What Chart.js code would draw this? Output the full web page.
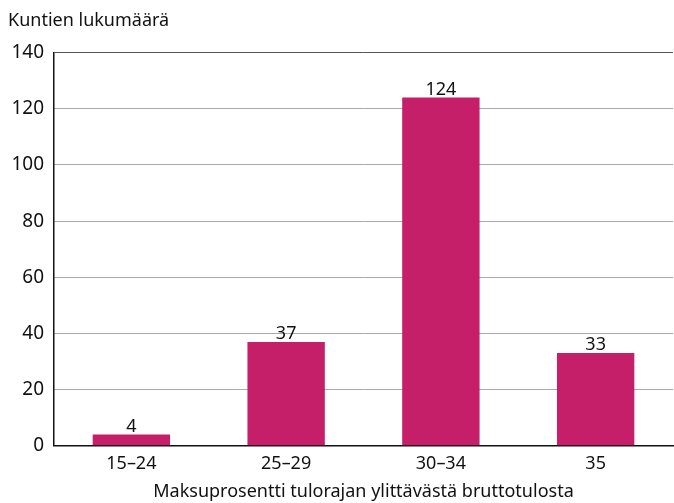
<!DOCTYPE html>
<html><head><meta charset="utf-8">
<script src="https://cdn.jsdelivr.net/npm/chart.js@4/dist/chart.umd.min.js"></script>
<style>html,body{margin:0;padding:0;background:#fff}#wrap{width:674px;height:503px}</style>
</head><body><div id="wrap"><canvas id="c" width="674" height="503"></canvas></div>
<script>
const categories = ["15–24", "25–29", "30–34", "35"];
const counts = [4, 37, 124, 33];
const yTicks = [0, 20, 40, 60, 80, 100, 120, 140];
const yTitle = "Kuntien lukumäärä";
const xTitle = "Maksuprosentti tulorajan ylittävästä bruttotulosta";

const FONT = "'Noto Sans', sans-serif";
const barColor = "#C51F69";

const labelPlugin = {
  id: 'valueLabels',
  afterDatasetsDraw(chart) {
    const ctx = chart.ctx;
    const meta = chart.getDatasetMeta(0);
    ctx.save();
    ctx.font = "18px " + FONT;
    ctx.fillStyle = "#111";
    ctx.textAlign = "center";
    ctx.textBaseline = "bottom";
    meta.data.forEach((bar, i) => {
      ctx.fillText(String(counts[i]), bar.x, bar.y + 1);
    });
    ctx.restore();
  }
};

new Chart(document.getElementById('c'), {
  type: 'bar',
  data: {
    labels: categories,
    datasets: [{ data: counts, backgroundColor: barColor, barPercentage: 0.5, categoryPercentage: 1.0 }]
  },
  options: {
    responsive: false,
    animation: false,
    devicePixelRatio: 1,
    layout: { padding: { left: 8, right: 1, top: 0, bottom: 0 } },
    plugins: {
      legend: { display: false },
      tooltip: { enabled: false },
      title: {
        display: true, text: yTitle, align: 'start',
        color: '#111', font: { family: FONT, size: 18, weight: 'normal' },
        padding: { top: 10, bottom: 21 }
      }
    },
    scales: {
      x: {
        grid: { display: false, drawTicks: false },
        border: { display: true, color: '#111', width: 1.5 },
        ticks: { color: '#111', font: { family: FONT, size: 18 }, padding: 7 },
        title: { display: true, text: xTitle, color: '#111', font: { family: FONT, size: 18 }, padding: { top: 0, bottom: 0 } }
      },
      y: {
        min: 0, max: 140,
        afterBuildTicks(axis) { axis.ticks = yTicks.map(v => ({ value: v })); },
        afterFit(axis) { axis.width = 46; },
        grid: {
          drawTicks: false,
          color: ctx => (ctx.tick && ctx.tick.value === 140) ? '#555' : '#aaa',
          lineWidth: 1
        },
        border: { display: true, color: '#111', width: 1.5 },
        ticks: { color: '#111', font: { family: FONT, size: 19 }, padding: 10 }
      }
    }
  },
  plugins: [labelPlugin]
});
</script></body></html>
